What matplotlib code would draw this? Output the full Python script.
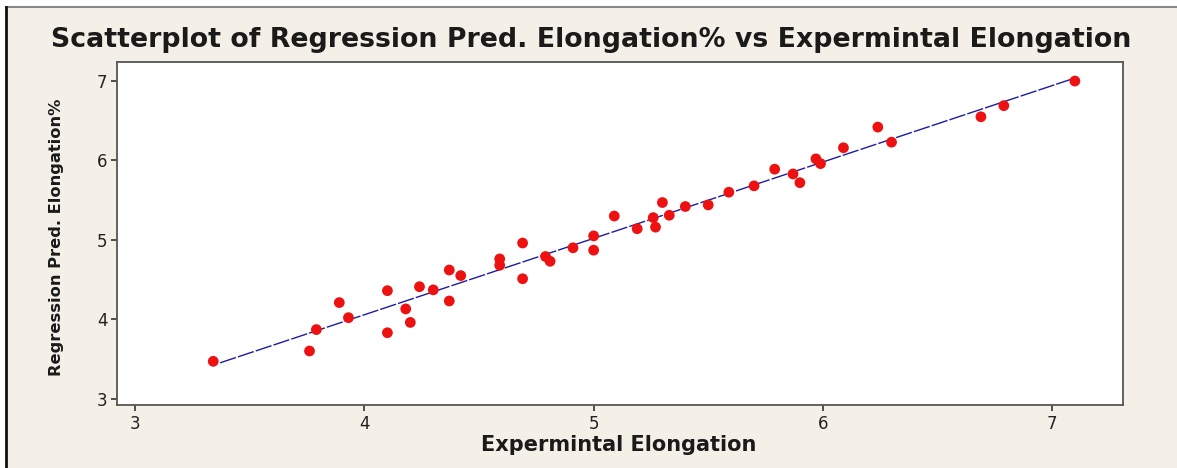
import numpy as np
import matplotlib.pyplot as plt
from matplotlib.lines import Line2D

# experimental elongation (x) vs regression predicted elongation % (y)
exp_elong = [3.34, 3.76, 3.79, 3.89, 3.93, 4.10, 4.10, 4.18, 4.20, 4.24,
             4.30, 4.37, 4.37, 4.42, 4.59, 4.59, 4.69, 4.69, 4.79, 4.81,
             4.91, 5.00, 5.00, 5.09, 5.19, 5.26, 5.27, 5.30, 5.33, 5.40,
             5.50, 5.59, 5.70, 5.79, 5.87, 5.90, 5.97, 5.99, 6.09, 6.24,
             6.30, 6.69, 6.79, 7.10]
pred_elong = [3.47, 3.60, 3.87, 4.21, 4.02, 3.83, 4.36, 4.13, 3.96, 4.41,
              4.37, 4.62, 4.23, 4.55, 4.76, 4.68, 4.96, 4.51, 4.79, 4.73,
              4.90, 5.05, 4.87, 5.30, 5.14, 5.28, 5.16, 5.47, 5.31, 5.42,
              5.44, 5.60, 5.68, 5.89, 5.83, 5.72, 6.02, 5.96, 6.16, 6.42,
              6.23, 6.55, 6.69, 7.00]
x_ticks = [3, 4, 5, 6, 7]
y_ticks = [3, 4, 5, 6, 7]

bg = '#f4f0e7'
fig = plt.figure(figsize=(11.77, 4.68), dpi=100, facecolor=bg)
ax = fig.add_axes([117/1177, 1 - 405/468, (1123-117)/1177, (405-62)/468])
ax.set_facecolor('white')

x = np.array(exp_elong)
y = np.array(pred_elong)
ax.scatter(x, y, s=60, color='#ee1111', edgecolors='none', zorder=3)

# fitted regression line
slope, icept = np.polyfit(x, y, 1)
xl = np.array([x.min() + 0.03, x.max() - 0.02])
ax.plot(xl, slope * xl + icept, color='#1c1ca0', lw=1.0,
        dashes=(12, 1.5), zorder=2)

ax.set_xlim(2.92, 7.31)
ax.set_ylim(2.92, 7.24)
ax.set_xticks(x_ticks)
ax.set_yticks(y_ticks)
ax.tick_params(direction='out', length=4, width=1.2, colors='#333333',
               labelsize=12, labelcolor='#222222', pad=3)
for s in ax.spines.values():
    s.set_color('#555555')
    s.set_linewidth(1.3)

fig.text(591/1177, 1 - 40/468,
         'Scatterplot of Regression Pred. Elongation% vs Expermintal Elongation',
         ha='center', va='center', fontsize=19.3, fontweight='bold',
         color='#1a1a1a', family='DejaVu Sans')
fig.text(619/1177, 1 - 445/468, 'Expermintal Elongation', ha='center',
         va='center', fontsize=15, fontweight='bold', color='#1a1a1a')
fig.text(57/1177, 1 - 237/468, 'Regression Pred. Elongation%', ha='center',
         va='center', rotation=90, fontsize=11.7, fontweight='bold',
         color='#1a1a1a')

# outer frame lines of the screenshot
fig.patches.append(plt.Rectangle((0, 1 - 7/468), 1, 7/468,
                                 transform=fig.transFigure, color='white'))
fig.patches.append(plt.Rectangle((0, 0), 6/1177, 1,
                                 transform=fig.transFigure, color='white'))
fig.lines.append(Line2D([6/1177, 1], [1 - 7/468, 1 - 7/468],
                        transform=fig.transFigure, color='#888888', lw=1.5))
fig.lines.append(Line2D([6/1177, 6/1177], [0, 1 - 7/468],
                        transform=fig.transFigure, color='#111111', lw=2))

fig.savefig('out.png', dpi=100, facecolor=bg)
